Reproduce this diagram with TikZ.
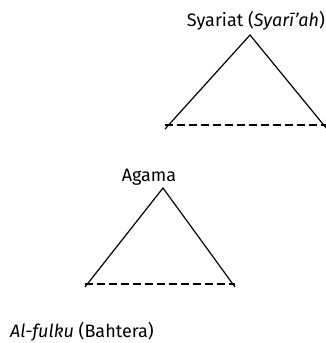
\documentclass[tikz,border=0pt]{standalone}
\usepackage{fontspec}
\setmainfont{Fira Sans}
\begin{document}
\begin{tikzpicture}[x=1pt,y=-1pt,
  label/.style={inner sep=0pt,font=\fontsize{18}{20}\selectfont},
  side/.style={line width=1.2pt},
  floor/.style={line width=1.2pt,dash pattern=on 8pt off 4pt}]
\useasboundingbox (0,0) rectangle (326,343);
% upper triangle: Syariat
\node[label] (syariat) at (256,21) {Syariat (\textit{Syarī'ah})};
\coordinate (t1) at (250,35);
\coordinate (l1) at (165,129);
\coordinate (r1) at (327,129);
\draw[side] (l1) -- (t1) -- (r1);
\draw[floor] ([yshift=4pt]l1) -- ([yshift=4pt]r1);
% lower triangle: Agama
\node[label] (agama) at (149,177) {Agama};
\coordinate (t2) at (163,188);
\coordinate (l2) at (85,287);
\coordinate (r2) at (235,287);
\draw[side] (l2) -- (t2) -- (r2);
\draw[floor] ([yshift=3pt]l2) -- ([yshift=3pt]r2);
% caption
\node[label,anchor=west] (fulku) at (10,332) {\textit{Al-fulku} (Bahtera)};
\end{tikzpicture}
\end{document}
